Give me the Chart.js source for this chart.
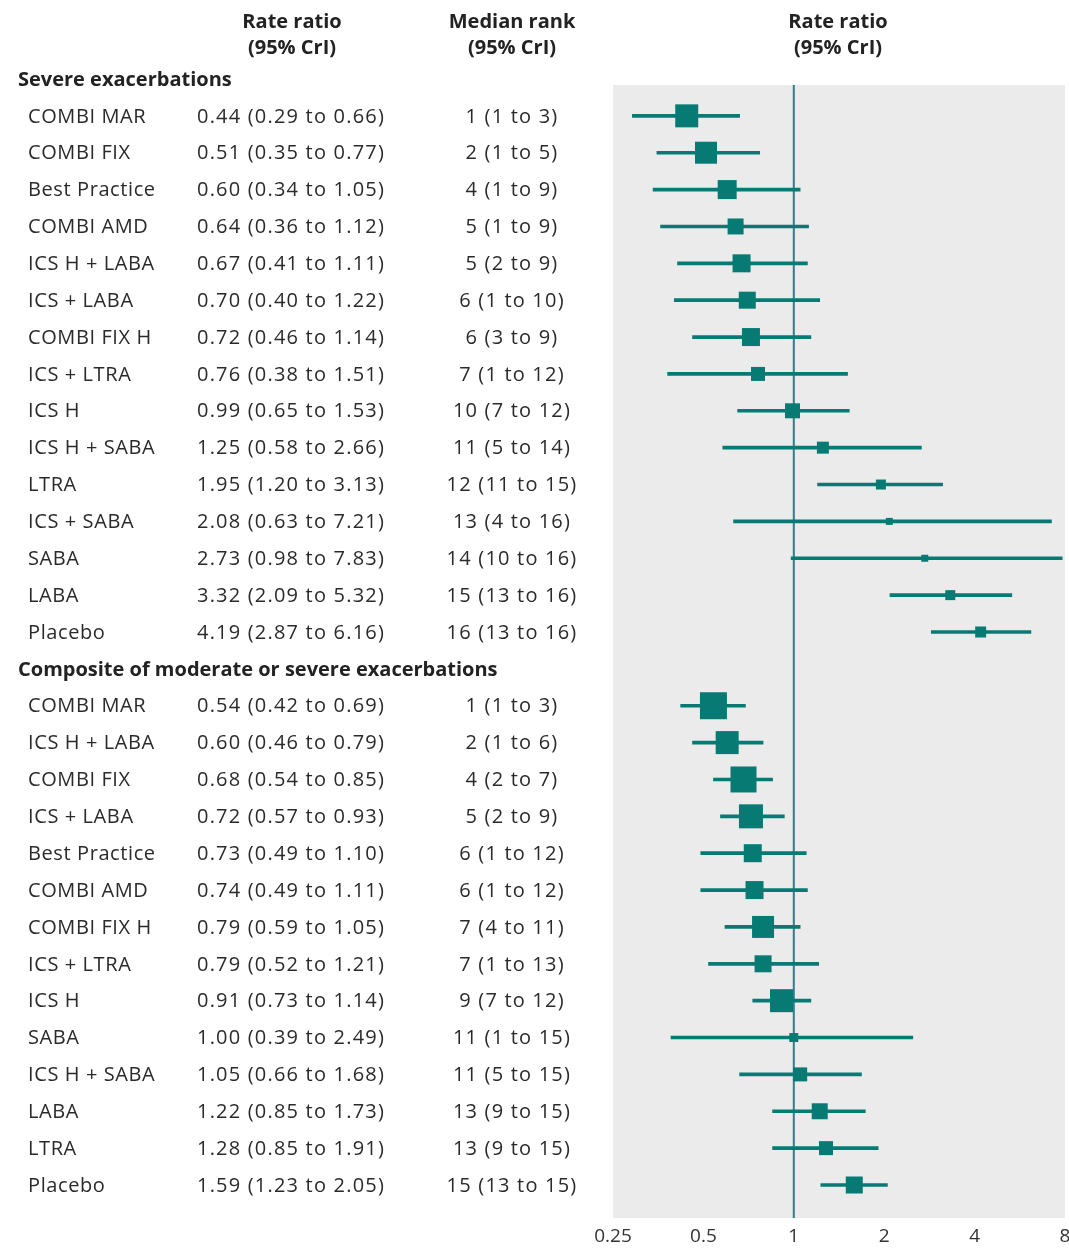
<!DOCTYPE html>
<html>
<head>
<meta charset="utf-8">
<script src="https://cdn.jsdelivr.net/npm/chart.js@4/dist/chart.umd.min.js"></script>
<style>
  html, body { margin: 0; padding: 0; background: #fff; }
  #c { display: block; }
</style>
</head>
<body>
<canvas id="c" width="1069" height="1248"></canvas>
<script>
// 森林图：两个结局的率比及95%可信区间
const SECTIONS = ["Severe exacerbations", "Composite of moderate or severe exacerbations"];

const severeNames = ["COMBI MAR", "COMBI FIX", "Best Practice", "COMBI AMD", "ICS H + LABA",
  "ICS + LABA", "COMBI FIX H", "ICS + LTRA", "ICS H", "ICS H + SABA", "LTRA", "ICS + SABA",
  "SABA", "LABA", "Placebo"];
const severeRR  = [0.44, 0.51, 0.60, 0.64, 0.67, 0.70, 0.72, 0.76, 0.99, 1.25, 1.95, 2.08, 2.73, 3.32, 4.19];
const severeLo  = [0.29, 0.35, 0.34, 0.36, 0.41, 0.40, 0.46, 0.38, 0.65, 0.58, 1.20, 0.63, 0.98, 2.09, 2.87];
const severeHi  = [0.66, 0.77, 1.05, 1.12, 1.11, 1.22, 1.14, 1.51, 1.53, 2.66, 3.13, 7.21, 7.83, 5.32, 6.16];
const severeRank = ["1 (1 to 3)", "2 (1 to 5)", "4 (1 to 9)", "5 (1 to 9)", "5 (2 to 9)",
  "6 (1 to 10)", "6 (3 to 9)", "7 (1 to 12)", "10 (7 to 12)", "11 (5 to 14)", "12 (11 to 15)",
  "13 (4 to 16)", "14 (10 to 16)", "15 (13 to 16)", "16 (13 to 16)"];
const severeWeight = [23, 22, 19, 16, 18, 17, 18, 14, 15, 12, 10, 7, 7, 10, 11];

const compNames = ["COMBI MAR", "ICS H + LABA", "COMBI FIX", "ICS + LABA", "Best Practice",
  "COMBI AMD", "COMBI FIX H", "ICS + LTRA", "ICS H", "SABA", "ICS H + SABA", "LABA", "LTRA", "Placebo"];
const compRR  = [0.54, 0.60, 0.68, 0.72, 0.73, 0.74, 0.79, 0.79, 0.91, 1.00, 1.05, 1.22, 1.28, 1.59];
const compLo  = [0.42, 0.46, 0.54, 0.57, 0.49, 0.49, 0.59, 0.52, 0.73, 0.39, 0.66, 0.85, 0.85, 1.23];
const compHi  = [0.69, 0.79, 0.85, 0.93, 1.10, 1.11, 1.05, 1.21, 1.14, 2.49, 1.68, 1.73, 1.91, 2.05];
const compRank = ["1 (1 to 3)", "2 (1 to 6)", "4 (2 to 7)", "5 (2 to 9)", "6 (1 to 12)",
  "6 (1 to 12)", "7 (4 to 11)", "7 (1 to 13)", "9 (7 to 12)", "11 (1 to 15)", "11 (5 to 15)",
  "13 (9 to 15)", "13 (9 to 15)", "15 (13 to 15)"];
const compWeight = [27, 23, 26, 24, 18, 18, 22, 17, 23, 9, 14, 16, 14, 17];

const xTicks = [0.25, 0.5, 1, 2, 4, 8];

// 行号：0 = 第一节标题，1..15 重度，16 = 第二节标题，17..30 复合
const rows = [];
const fmt2 = (v) => v.toFixed(2);
const addSection = (title, names, rr, lo, hi, rank, w) => {
  rows.push({ header: title, y: rows.length });
  names.forEach((n, i) => rows.push({
    name: n, rr: rr[i], lo: lo[i], hi: hi[i], rank: rank[i], w: w[i], y: rows.length,
    txt: `${fmt2(rr[i])} (${fmt2(lo[i])} to ${fmt2(hi[i])})`,
  }));
};
addSection(SECTIONS[0], severeNames, severeRR, severeLo, severeHi, severeRank, severeWeight);
addSection(SECTIONS[1], compNames, compRR, compLo, compHi, compRank, compWeight);
const items = rows.filter(r => !r.header);

const Y_MIN = 0.163, Y_MAX = 30.895;
const TEAL = "#077b73";
const REF = "#2f7f8f";
const TXT = "#2a2a2a";
const FONT = "'Open Sans', 'Noto Sans', sans-serif";

const panelBg = {
  id: "panelBg",
  beforeDraw(chart) {
    const { ctx, chartArea: a } = chart;
    ctx.save();
    ctx.fillStyle = "#ebebeb";
    ctx.fillRect(a.left, a.top, a.right - a.left, a.bottom - a.top);
    ctx.restore();
  },
};

const tableText = {
  id: "tableText",
  afterDraw(chart) {
    const { ctx } = chart;
    const ys = chart.scales.y;
    ctx.save();
    ctx.fillStyle = "#222";
    ctx.textBaseline = "middle";
    ctx.textAlign = "center";
    ctx.font = `bold 20px ${FONT}`;
    for (const cx of [292, 512, 838]) {
      const t1 = cx === 512 ? "Median rank" : "Rate ratio";
      ctx.fillText(t1, cx, 22);
      ctx.fillText("(95% CrI)", cx, 48);
    }
    for (const r of rows) {
      const py = ys.getPixelForValue(r.y) + 1;
      if (r.header) {
        ctx.fillStyle = "#222";
        ctx.textAlign = "left";
        ctx.font = `bold 20px ${FONT}`;
        ctx.letterSpacing = "0px";
        ctx.fillText(r.header, 18, py);
        continue;
      }
      ctx.fillStyle = TXT;
      ctx.font = `20px ${FONT}`;
      ctx.textAlign = "left";
      ctx.letterSpacing = "0.6px";
      ctx.fillText(r.name, 28, py);
      ctx.letterSpacing = "1.2px";
      ctx.fillText(r.txt, 197, py);
      ctx.textAlign = "center";
      ctx.fillText(r.rank, 512, py);
    }
    ctx.restore();
  },
};

new Chart(document.getElementById("c"), {
  type: "bar",
  data: {
    datasets: [
      {
        type: "scatter",
        data: items.map(r => ({ x: r.rr, y: r.y })),
        pointStyle: "rect",
        pointRadius: items.map(r => r.w / Math.SQRT2),
        backgroundColor: TEAL,
        borderWidth: 0,
        order: 1,
      },
      {
        type: "bar",
        indexAxis: "y",
        data: items.map(r => ({ x: [r.lo, r.hi], y: r.y })),
        backgroundColor: TEAL,
        barThickness: 3,
        borderWidth: 0,
        order: 2,
      },
      {
        type: "line",
        data: [{ x: 1, y: Y_MIN }, { x: 1, y: Y_MAX }],
        borderColor: REF,
        borderWidth: 2,
        pointRadius: 0,
        order: 3,
      },
    ],
  },
  options: {
    responsive: false,
    animation: false,
    indexAxis: "y",
    layout: { autoPadding: false, padding: { left: 613, right: 4, top: 85, bottom: 0 } },
    plugins: { legend: { display: false }, tooltip: { enabled: false } },
    scales: {
      x: {
        type: "logarithmic",
        min: 0.25, max: 8,
        offset: false,
        grid: { display: false, drawTicks: false },
        border: { display: false },
        afterBuildTicks: (s) => { s.ticks = xTicks.map(v => ({ value: v })); },
        afterFit: (s) => { s.height = 30; s.paddingLeft = 0; s.paddingRight = 0; },
        ticks: {
          autoSkip: false, maxRotation: 0, padding: 0,
          color: "#333", font: { family: FONT, size: 19, lineHeight: 2 },
          callback: (v) => String(v),
        },
      },
      y: {
        type: "linear",
        display: false,
        reverse: true,
        offset: false,
        grace: 0,
        min: Y_MIN, max: Y_MAX,
      },
    },
  },
  plugins: [panelBg, tableText],
});
</script>
</body>
</html>
